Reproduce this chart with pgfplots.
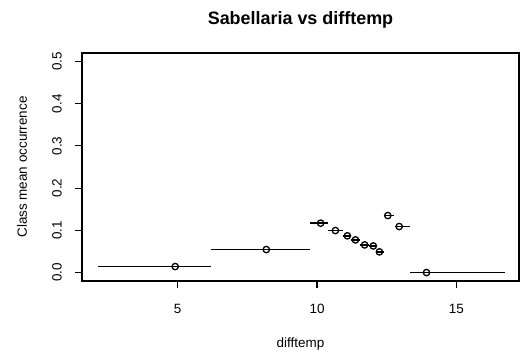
\documentclass[border=0pt]{standalone}
\usepackage{pgfplots}
\pgfplotsset{compat=1.18}
\usepackage{fontspec}
\setmainfont{Liberation Sans}

\begin{document}
\begin{tikzpicture}[x=1bp,y=1bp]
\begin{axis}[
  at={(0,0)}, anchor=south west,
  scale only axis, width=437bp, height=228bp,
  xmin=1.565, xmax=17.25,
  ymin=-0.02, ymax=0.52,
  axis line style={line width=1.2bp, black},
  xtick={5,10,15}, ytick={0,0.1,0.2,0.3,0.4,0.5},
  tick align=outside, tick pos=left,
  major tick length=7bp,
  every tick/.style={black, line width=1.2bp},
  /pgf/number format/assume math mode=true,
  yticklabel={\rotatebox{90}{\pgfmathprintnumber[fixed, fixed zerofill, precision=1]{\tick}}},
  xticklabel style={font=\fontsize{13.5}{16}\selectfont, anchor=base, yshift=-25bp},
  yticklabel style={font=\fontsize{13.5}{16}\selectfont, anchor=east, inner sep=0pt, xshift=-13bp},
  clip=false,
]
% class ranges of difftemp, each drawn as a horizontal segment
\addplot[black, line width=1.6bp, unbounded coords=jump] coordinates {
  (2.14,0.0142) (6.20,0.0142) (nan,nan)
  (6.20,0.0545) (9.75,0.0545) (nan,nan)
  (9.75,0.117) (10.40,0.117) (nan,nan)
  (10.40,0.0995) (10.92,0.0995) (nan,nan)
  (10.92,0.087) (11.22,0.087) (nan,nan)
  (11.22,0.0774) (11.55,0.0774) (nan,nan)
  (11.55,0.0655) (11.88,0.0655) (nan,nan)
  (11.88,0.063) (12.12,0.063) (nan,nan)
  (12.12,0.049) (12.40,0.049) (nan,nan)
  (12.40,0.135) (12.75,0.135) (nan,nan)
  (12.80,0.109) (13.35,0.109) (nan,nan)
  (13.35,0.0) (16.73,0.0)
};
% class mean occurrence at the class mean of difftemp
\addplot[only marks, mark=o, mark size=3.2bp, mark options={line width=1.3bp, black, fill=white}] coordinates {
  (4.91,0.0142) (8.18,0.0545) (10.13,0.117) (10.66,0.0995)
  (11.09,0.087) (11.38,0.0774) (11.71,0.0655) (12.02,0.063)
  (12.24,0.049) (12.54,0.135) (12.95,0.109) (13.93,0.0)
};
\end{axis}
\node[anchor=base, font=\fontsize{18}{22}\selectfont\bfseries] at (218.5,257) {Sabellaria vs difftemp};
\node[anchor=base, font=\fontsize{13.5}{16}\selectfont] at (218.5,-66) {difftemp};
\node[anchor=base, rotate=90, font=\fontsize{13.5}{16}\selectfont] at (-55,114) {Class mean occurrence};
\pgfresetboundingbox
\path[use as bounding box] (-82,-75) rectangle (441,281);
\end{tikzpicture}
\end{document}
